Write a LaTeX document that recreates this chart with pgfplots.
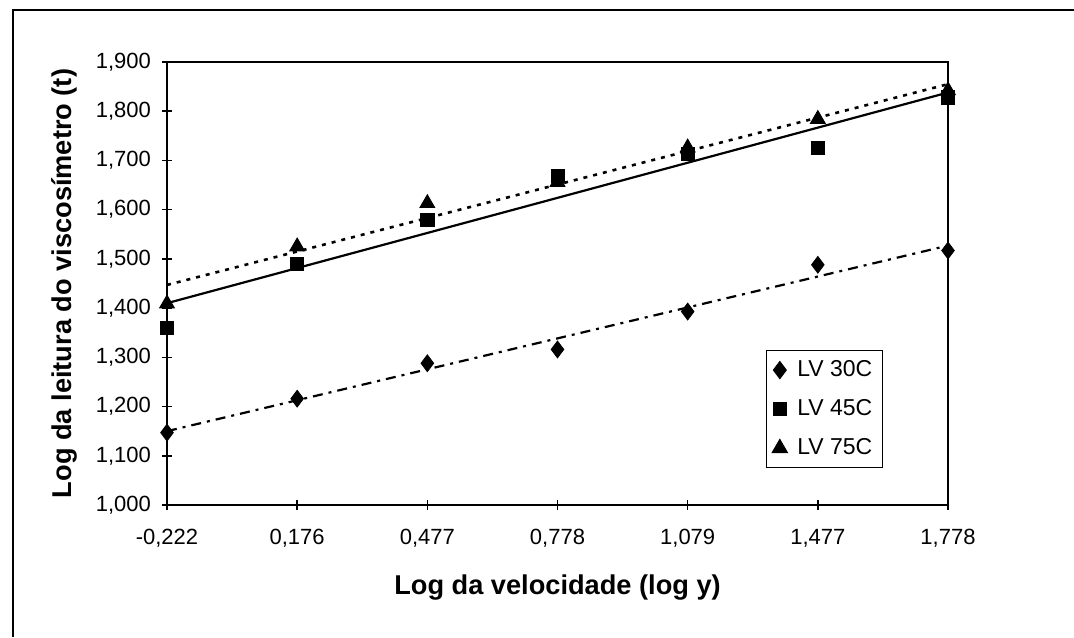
\documentclass[border=0pt]{standalone}
\usepackage{fontspec}
\setmainfont{Liberation Sans}
\usepackage{pgfplots}
\pgfplotsset{compat=1.18}
\begin{document}
\begin{tikzpicture}
\useasboundingbox (0,0) rectangle (537pt,318.5pt);
\draw[line width=0.8pt] (6.5pt,0pt) -- (6.5pt,313.5pt) -- (537pt,313.5pt);
\begin{axis}[
  at={(83.5pt,66pt)}, anchor=south west,
  scale only axis, width=390.5pt, height=221.5pt,
  xmin=0, xmax=6, ymin=1, ymax=1.9,
  xtick={0,1,2,3,4,5,6},
  xticklabels={{-0,222},{0,176},{0,477},{0,778},{1,079},{1,477},{1,778}},
  ytick={1,1.1,1.2,1.3,1.4,1.5,1.6,1.7,1.8,1.9},
  xtick pos=bottom, ytick pos=left,
  yticklabel style={font=\fontsize{11}{13}\selectfont, xshift=-2pt,
    /pgf/number format/fixed, /pgf/number format/fixed zerofill,
    /pgf/number format/precision=3, /pgf/number format/use comma,
    /pgf/number format/1000 sep={}, /pgf/number format/assume math mode=true},
  xticklabel style={font=\fontsize{11}{13}\selectfont, yshift=-6pt},
  tick align=center, major tick length=5pt,
  tick style={black, line width=0.8pt},
  axis line style={line width=1pt},
  clip=false,
  xlabel={\bfseries Log da velocidade (log y)},
  ylabel={\bfseries Log da leitura do viscosímetro (t)},
  label style={font=\fontsize{13.6}{15}\selectfont},
  xlabel style={at={(axis description cs:0.5,-0.187)}, anchor=center},
  ylabel style={at={(axis description cs:-0.131,0.5)}, anchor=center},
  legend style={at={(axis cs:4.6,1.315)}, anchor=north west, draw=black, line width=0.6pt,
    font=\fontsize{11.5}{13}\selectfont, row sep=6pt, column sep=3pt, inner xsep=3pt, inner ysep=3pt},
  legend cell align=left,
  legend image code/.code={\draw[mark repeat=2,mark phase=2] plot coordinates {(0cm,0cm) (0.17cm,0cm) (0.34cm,0cm)};},
]
% trendlines
\addplot[black, line width=1.1pt, dash pattern=on 5pt off 3pt on 1.5pt off 3pt, forget plot] coordinates {(0,1.150) (6,1.527)};
\addplot[black, line width=1.1pt, forget plot] coordinates {(0,1.410) (6,1.838)};
\addplot[black, line width=1.3pt, dash pattern=on 2pt off 3pt, forget plot] coordinates {(0,1.447) (6,1.855)};
% data
\addplot[only marks, mark=diamond*, mark size=4.2pt, black] coordinates {
 (0,1.147) (1,1.216) (2,1.288) (3,1.316) (4,1.393) (5,1.488) (6,1.517)};
\addlegendentry{LV 30C}
\addplot[only marks, mark=square*, mark size=3.3pt, black] coordinates {
 (0,1.360) (1,1.490) (2,1.579) (3,1.669) (4,1.713) (5,1.726) (6,1.828)};
\addlegendentry{LV 45C}
\addplot[only marks, mark=triangle*, mark size=4.3pt, black] coordinates {
 (0,1.409) (1,1.525) (2,1.613) (3,1.656) (4,1.726) (5,1.784) (6,1.842)};
\addlegendentry{LV 75C}
\end{axis}
\end{tikzpicture}
\end{document}
